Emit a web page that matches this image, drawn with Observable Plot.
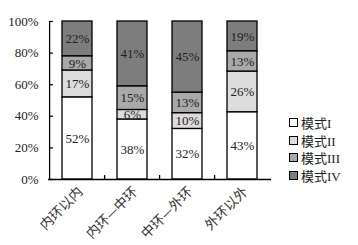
<!DOCTYPE html>
<html><head><meta charset="utf-8">
<script src="https://cdn.jsdelivr.net/npm/d3@7"></script>
<script src="https://cdn.jsdelivr.net/npm/@observablehq/plot@0.6"></script>
<style>
body{margin:0;background:#fff;}
#wrap{position:relative;width:358px;height:245px;}
#legend{position:absolute;left:289px;top:114px;font-family:"Liberation Serif","Noto Sans CJK SC",serif;font-size:13px;color:#222;}
#legend div{height:17.5px;display:flex;align-items:center;}
#legend span.sw{display:inline-block;width:7px;height:7px;border:1px solid #000;margin-right:3px;}
</style>
</head><body>
<div id="wrap"></div>
<script>
const categories = ["内环以内", "内环—中环", "中环—外环", "外环以外"];
const modes = ["模式I", "模式II", "模式III", "模式IV"];
const modeI = [52, 38, 32, 43];
const modeII = [17, 6, 10, 26];
const modeIII = [9, 15, 13, 13];
const modeIV = [22, 41, 45, 19];
const colors = ["#ffffff", "#dcdcdc", "#a9a9a9", "#7d7d7d"];
const yTicks = [0, 0.2, 0.4, 0.6, 0.8, 1];

const series = [modeI, modeII, modeIII, modeIV];
const data = [];
modes.forEach((m, j) => categories.forEach((c, i) => data.push({cat: c, mode: m, value: series[j][i]})));

const font = '"Liberation Serif","Noto Sans CJK SC",serif';
const chart = Plot.plot({
  width: 358, height: 245,
  marginLeft: 48, marginRight: 87, marginTop: 21, marginBottom: 66,
  style: {fontFamily: font, fontSize: "13px", color: "#222", background: "#fff"},
  x: {domain: categories, paddingInner: 0.45, paddingOuter: 0.225, label: null},
  y: {domain: [0, 1], label: null},
  color: {domain: modes, range: colors},
  marks: [
    Plot.barY(data, Plot.stackY({offset: "normalize", x: "cat", y: "value", fill: "mode", stroke: "#000", strokeWidth: 1.3, order: null})),
    Plot.text(data, Plot.stackY({offset: "normalize", x: "cat", y: "value", text: d => d.value + "%", fill: "#222", fontSize: 13, order: null})),
    Plot.axisY({ticks: yTicks, tickFormat: d => Math.round(d * 100) + "%", tickSize: 0, tickPadding: 10, fontSize: 13, label: null}),
    Plot.tickY(yTicks, {y: d => d, x: () => categories[0], dx: -12.5, insetRight: 26.7, stroke: "#000", strokeWidth: 1.3}),
    Plot.axisX({tickSize: 0, tickRotate: -45, tickPadding: 10, dx: 3, fontSize: 13.5, fontFamily: '"Noto Sans CJK SC",sans-serif', fill: "#333", label: null}),
    Plot.ruleY([0], {stroke: "#000", strokeWidth: 1.3}),
    Plot.ruleX(categories.slice(1), {x: d => d, dx: -27.9, y1: 0, y2: 0.025, stroke: "#000", strokeWidth: 1.3}),
    Plot.ruleX([categories[0]], {dx: -27.9, y1: 0, y2: 1, stroke: "#000", strokeWidth: 1.3})
  ]
});
document.getElementById("wrap").appendChild(chart);
const lg = document.createElement("div");
lg.id = "legend";
modes.forEach((m, j) => {
  const row = document.createElement("div");
  row.innerHTML = `<span class="sw" style="background:${colors[j]}"></span><span>${m}</span>`;
  lg.appendChild(row);
});
document.getElementById("wrap").appendChild(lg);
</script>
</body></html>
